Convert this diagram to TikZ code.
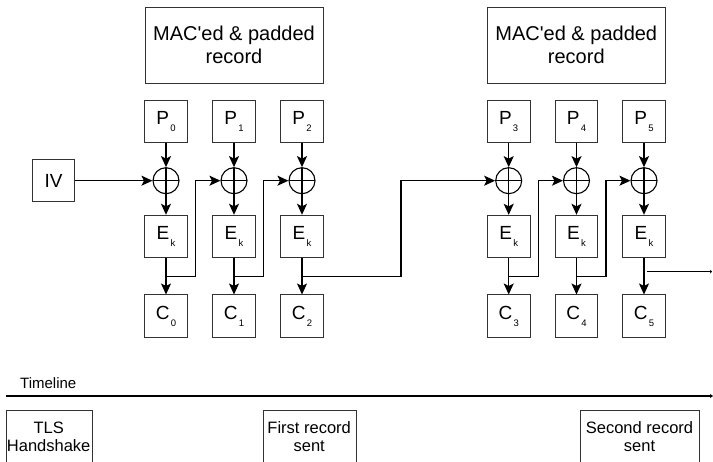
\documentclass[tikz,border=0pt]{standalone}
\usepackage{fontspec}
\setmainfont{Liberation Sans}
\usetikzlibrary{arrows.meta}
% lowered, smaller index after a block letter
\newcommand\subtxt[1]{\kern1.2pt\raisebox{-7pt}{\fontsize{9.5}{10}\selectfont #1}}
\begin{document}
\begin{tikzpicture}[x=1pt,y=-1pt,
  blk/.style={draw=black!80, line width=0.9pt, minimum width=42.5pt, minimum height=42.5pt,
              inner sep=0pt, font=\fontsize{19}{21}\selectfont},
  big/.style={draw=black!80, line width=0.9pt, minimum width=178pt, minimum height=76pt,
              inner sep=0pt, align=center, font=\fontsize{20}{22.6}\selectfont},
  evt/.style={draw=black!80, line width=0.9pt, anchor=north west, minimum height=70pt, inner sep=0pt},
  evtxt/.style={anchor=north, inner sep=0pt, align=center, font=\fontsize{16.5}{18}\selectfont},
  xorc/.style={circle, draw=black, line width=1.1pt, minimum size=26pt, inner sep=0pt,
               path picture={\draw[line width=1.1pt]
                 (path picture bounding box.north) -- (path picture bounding box.south)
                 (path picture bounding box.west) -- (path picture bounding box.east);}},
  flow/.style={draw=black, line width=1.3pt, -{Stealth[length=11pt,width=10pt,inset=2.5pt]}},
  wire/.style={draw=black, line width=1.3pt}]

\useasboundingbox (0,0) rectangle (713,462);
\clip (0,0) rectangle (713,462);

% records
\node[big] (m1) at (234,45) {MAC\textquotesingle ed \& padded\\record};
\node[big] (m2) at (576.3,45) {MAC\textquotesingle ed \& padded\\record};

% CBC columns
\foreach \i/\x in {0/166,1/234,2/302,3/508.7,4/576.5,5/644} {
  \node[blk] (p\i) at (\x,121.5) {P\subtxt{\i}};
  \node[xorc] (x\i) at (\x,180.7) {};
  \node[blk] (e\i) at (\x,236.5) {E\subtxt{k}};
  \node[blk] (c\i) at (\x,316.2) {C\subtxt{\i}};
  \coordinate (j\i) at (\x,276.3);
  \draw[flow] (p\i) -- (x\i);
  \draw[flow] (x\i) -- (e\i);
  \draw[flow] (e\i) -- (c\i);
}

% initialisation vector
\node[blk] (iv) at (53.5,180.7) {IV};
\draw[flow] (iv) -- (x0);

% chaining of ciphertext blocks
\draw[flow] (j0) -- ++(29.7,0) |- (x1);
\draw[flow] (j1) -- ++(29.3,0) |- (x2);
\draw[flow] (j2) -- ++(99,0) |- (x3);
\draw[flow] (j3) -- ++(29.6,0) |- (x4);
\draw[flow] (j4) -- ++(29.5,0) |- (x5);
\coordinate (j5) at (646.5,271.7);
\coordinate (out5) at (712,271.7);
\draw[wire, line width=1pt, -{Stealth[length=2pt,width=4pt]}] (j5) -- (out5);

% timeline
\coordinate (t0) at (6,396);
\coordinate (t1) at (713,396);
\draw[line width=1.1pt, -{Stealth[length=3pt,width=4pt]}] (t0) -- (t1);
\node[anchor=base west, inner sep=0pt, font=\fontsize{15}{15}\selectfont] (tl) at (20,389) {Timeline};

\node[evt, minimum width=86pt] (tls) at (5.7,410) {};
\node[evtxt] (tlst) at (48.7,421.5) {TLS\\Handshake};
\node[evt, minimum width=93pt] (first) at (262.7,410) {};
\node[evtxt] (firstt) at (309.2,421.5) {First record\\sent};
\node[evt, minimum width=119pt] (second) at (580,410) {};
\node[evtxt] (secondt) at (639.5,421.5) {Second record\\sent};
\end{tikzpicture}
\end{document}
